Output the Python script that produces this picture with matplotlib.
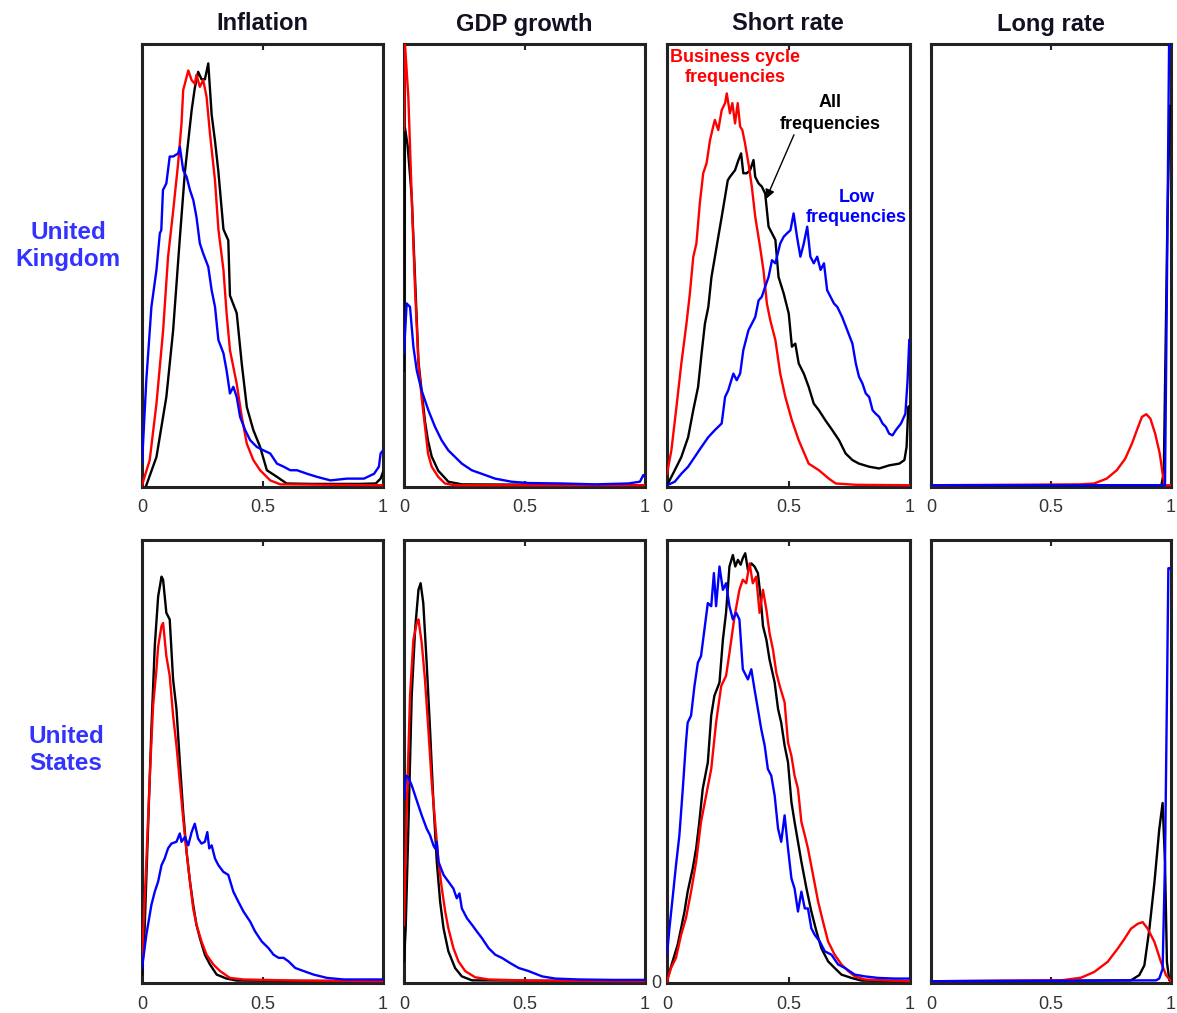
import matplotlib
matplotlib.use("Agg")
import matplotlib.pyplot as plt

plt.rcParams['font.family'] = ['Liberation Sans', 'DejaVu Sans']

columns = ["Inflation", "GDP growth", "Short rate", "Long rate"]
countries = ["United\nKingdom", "United\nStates"]
xtick_vals = [0, 0.5, 1]
xtick_labels = ["0", "0.5", "1"]

# ---------------- United Kingdom ----------------
uk_infl_all_x = [0.018, 0.06, 0.101, 0.129, 0.157, 0.178, 0.192, 0.206, 0.219, 0.233, 0.247, 0.261, 0.275, 0.289, 0.303, 0.317, 0.338, 0.358, 0.365, 0.393, 0.414, 0.435, 0.462, 0.49, 0.518, 0.56, 0.60, 0.7, 0.8, 0.9, 0.97, 0.99, 1.0]
uk_infl_all_y = [0.0, 0.064, 0.20, 0.35, 0.56, 0.71, 0.78, 0.85, 0.90, 0.937, 0.92, 0.92, 0.956, 0.84, 0.78, 0.71, 0.58, 0.555, 0.43, 0.39, 0.275, 0.177, 0.125, 0.087, 0.034, 0.019, 0.004, 0.003, 0.003, 0.003, 0.004, 0.015, 0.03]
uk_infl_bc_x = [0.0, 0.032, 0.06, 0.0875, 0.108, 0.129, 0.15, 0.164, 0.171, 0.178, 0.192, 0.206, 0.219, 0.226, 0.24, 0.254, 0.268, 0.282, 0.303, 0.317, 0.338, 0.351, 0.365, 0.393, 0.414, 0.435, 0.462, 0.49, 0.532, 0.574, 1.0]
uk_infl_bc_y = [0.0, 0.057, 0.185, 0.35, 0.517, 0.62, 0.73, 0.82, 0.896, 0.91, 0.94, 0.918, 0.91, 0.93, 0.903, 0.918, 0.88, 0.797, 0.69, 0.58, 0.488, 0.39, 0.306, 0.23, 0.155, 0.094, 0.057, 0.034, 0.011, 0.002, 0.0]
uk_infl_low_x = [0.0, 0.018, 0.039, 0.06, 0.074, 0.08, 0.087, 0.101, 0.115, 0.129, 0.15, 0.157, 0.171, 0.185, 0.199, 0.213, 0.226, 0.24, 0.254, 0.275, 0.289, 0.303, 0.317, 0.338, 0.351, 0.365, 0.379, 0.393, 0.407, 0.428, 0.449, 0.476, 0.504, 0.532, 0.56, 0.588, 0.615, 0.643, 0.685, 0.726, 0.782, 0.851, 0.921, 0.963, 0.983, 0.99, 1.0]
uk_infl_low_y = [0.049, 0.239, 0.404, 0.488, 0.571, 0.578, 0.669, 0.684, 0.745, 0.745, 0.752, 0.767, 0.714, 0.699, 0.669, 0.646, 0.608, 0.548, 0.525, 0.495, 0.442, 0.404, 0.329, 0.299, 0.26, 0.208, 0.223, 0.2, 0.155, 0.125, 0.102, 0.087, 0.079, 0.072, 0.049, 0.042, 0.034, 0.034, 0.026, 0.019, 0.011, 0.015, 0.015, 0.026, 0.042, 0.072, 0.079]

uk_gdp_all_x = [0.0, 0.004, 0.015, 0.032, 0.06, 0.087, 0.1, 0.115, 0.142, 0.184, 0.24, 1.0]
uk_gdp_all_y = [0.26, 0.81, 0.77, 0.654, 0.28, 0.145, 0.1, 0.065, 0.033, 0.008, 0.002, 0.0]
uk_gdp_bc_x = [0.0, 0.004, 0.018, 0.032, 0.046, 0.06, 0.073, 0.087, 0.1, 0.115, 0.142, 0.17, 0.21, 1.0]
uk_gdp_bc_y = [0.805, 1.0, 0.88, 0.654, 0.442, 0.276, 0.2, 0.133, 0.071, 0.042, 0.019, 0.004, 0.0, 0.0]
uk_gdp_low_x = [0.0, 0.011, 0.025, 0.039, 0.053, 0.073, 0.101, 0.129, 0.156, 0.184, 0.212, 0.24, 0.281, 0.322, 0.378, 0.446, 0.516, 0.654, 0.793, 0.931, 0.979, 0.993, 1.0]
uk_gdp_low_y = [0.3, 0.412, 0.404, 0.314, 0.26, 0.215, 0.17, 0.132, 0.102, 0.079, 0.064, 0.049, 0.034, 0.026, 0.015, 0.008, 0.005, 0.004, 0.002, 0.004, 0.008, 0.023, 0.019]

uk_short_all_x = [0.004, 0.032, 0.059, 0.087, 0.108, 0.128, 0.142, 0.156, 0.17, 0.183, 0.197, 0.211, 0.225, 0.239, 0.25, 0.259, 0.28, 0.294, 0.305, 0.314, 0.328, 0.342, 0.356, 0.363, 0.377, 0.39, 0.404, 0.418, 0.432, 0.446, 0.459, 0.48, 0.501, 0.514, 0.528, 0.542, 0.563, 0.583, 0.604, 0.625, 0.652, 0.68, 0.708, 0.735, 0.763, 0.79, 0.832, 0.873, 0.914, 0.956, 0.977, 0.986, 0.993, 1.0]
uk_short_all_y = [0.004, 0.034, 0.064, 0.109, 0.17, 0.223, 0.297, 0.366, 0.404, 0.472, 0.517, 0.563, 0.608, 0.654, 0.691, 0.699, 0.714, 0.737, 0.752, 0.707, 0.707, 0.714, 0.737, 0.699, 0.684, 0.677, 0.661, 0.586, 0.571, 0.556, 0.472, 0.435, 0.389, 0.314, 0.321, 0.276, 0.253, 0.223, 0.185, 0.17, 0.147, 0.125, 0.102, 0.072, 0.057, 0.049, 0.042, 0.038, 0.045, 0.049, 0.057, 0.087, 0.178, 0.18]
uk_short_bc_x = [0.0, 0.018, 0.039, 0.059, 0.08, 0.094, 0.108, 0.121, 0.135, 0.149, 0.163, 0.177, 0.19, 0.197, 0.211, 0.225, 0.239, 0.246, 0.259, 0.269, 0.28, 0.291, 0.301, 0.31, 0.321, 0.335, 0.349, 0.363, 0.383, 0.397, 0.411, 0.425, 0.446, 0.466, 0.487, 0.514, 0.542, 0.583, 0.625, 0.666, 0.694, 0.777, 1.0]
uk_short_bc_y = [0.026, 0.079, 0.178, 0.276, 0.366, 0.434, 0.517, 0.548, 0.639, 0.707, 0.73, 0.782, 0.813, 0.828, 0.805, 0.85, 0.866, 0.888, 0.843, 0.866, 0.82, 0.866, 0.813, 0.805, 0.775, 0.73, 0.677, 0.609, 0.54, 0.487, 0.412, 0.374, 0.329, 0.253, 0.2, 0.147, 0.102, 0.049, 0.034, 0.015, 0.004, 0.001, 0.0]
uk_short_low_x = [0.0, 0.032, 0.059, 0.087, 0.114, 0.142, 0.17, 0.197, 0.225, 0.239, 0.252, 0.273, 0.287, 0.301, 0.314, 0.335, 0.349, 0.363, 0.377, 0.39, 0.404, 0.418, 0.432, 0.446, 0.466, 0.48, 0.494, 0.508, 0.521, 0.535, 0.549, 0.563, 0.577, 0.59, 0.604, 0.618, 0.632, 0.646, 0.659, 0.673, 0.687, 0.701, 0.721, 0.742, 0.763, 0.777, 0.79, 0.804, 0.818, 0.832, 0.846, 0.859, 0.873, 0.887, 0.901, 0.914, 0.928, 0.942, 0.963, 0.981, 0.99, 0.997]
uk_short_low_y = [0.0, 0.008, 0.026, 0.042, 0.064, 0.087, 0.109, 0.125, 0.14, 0.2, 0.215, 0.253, 0.238, 0.253, 0.306, 0.351, 0.366, 0.381, 0.419, 0.427, 0.45, 0.472, 0.51, 0.503, 0.548, 0.563, 0.571, 0.578, 0.616, 0.563, 0.518, 0.548, 0.586, 0.518, 0.503, 0.518, 0.488, 0.503, 0.442, 0.427, 0.412, 0.404, 0.381, 0.351, 0.321, 0.276, 0.246, 0.231, 0.208, 0.2, 0.17, 0.162, 0.155, 0.14, 0.132, 0.117, 0.113, 0.125, 0.14, 0.162, 0.238, 0.329]

uk_long_all_x = [0.0, 0.96, 0.97, 0.985, 0.995, 1.0]
uk_long_all_y = [0.0, 0.0, 0.03, 0.6, 0.86, 0.86]
uk_long_bc_x = [0.0, 0.62, 0.68, 0.732, 0.774, 0.809, 0.837, 0.858, 0.879, 0.897, 0.914, 0.934, 0.953, 0.967, 0.973, 1.0]
uk_long_bc_y = [0.0, 0.002, 0.004, 0.015, 0.034, 0.06, 0.094, 0.125, 0.155, 0.161, 0.151, 0.117, 0.072, 0.019, 0.0, 0.0]
uk_long_low_x = [0.0, 0.975, 0.983, 0.992, 1.0]
uk_long_low_y = [0.0, 0.0, 0.45, 1.0, 1.0]

# ---------------- United States ----------------
us_infl_all_x = [0.0, 0.011, 0.025, 0.039, 0.053, 0.067, 0.081, 0.0875, 0.101, 0.115, 0.129, 0.143, 0.157, 0.171, 0.185, 0.199, 0.2125, 0.226, 0.24, 0.261, 0.282, 0.31, 0.351, 0.393, 1.0]
us_infl_all_y = [0.015, 0.12, 0.346, 0.571, 0.76, 0.872, 0.917, 0.91, 0.835, 0.82, 0.684, 0.617, 0.496, 0.383, 0.293, 0.226, 0.173, 0.128, 0.098, 0.06, 0.038, 0.015, 0.006, 0.0015, 0.0]
us_infl_bc_x = [0.0, 0.018, 0.032, 0.046, 0.06, 0.067, 0.081, 0.0875, 0.101, 0.115, 0.129, 0.143, 0.157, 0.171, 0.185, 0.199, 0.2125, 0.226, 0.247, 0.268, 0.296, 0.324, 0.365, 0.421, 0.64, 1.0]
us_infl_bc_y = [0.053, 0.271, 0.459, 0.624, 0.707, 0.759, 0.805, 0.812, 0.737, 0.692, 0.602, 0.534, 0.451, 0.368, 0.293, 0.226, 0.165, 0.128, 0.09, 0.06, 0.038, 0.023, 0.0075, 0.004, 0.0015, 0.0]
us_infl_low_x = [0.0, 0.018, 0.039, 0.053, 0.067, 0.081, 0.094, 0.108, 0.122, 0.143, 0.157, 0.164, 0.178, 0.192, 0.206, 0.219, 0.233, 0.247, 0.261, 0.271, 0.279, 0.289, 0.303, 0.317, 0.3375, 0.358, 0.379, 0.4, 0.421, 0.449, 0.469, 0.497, 0.525, 0.546, 0.567, 0.5875, 0.608, 0.636, 0.671, 0.7125, 0.768, 0.8375, 0.921, 1.0]
us_infl_low_y = [0.03, 0.105, 0.173, 0.203, 0.226, 0.263, 0.278, 0.301, 0.312, 0.316, 0.335, 0.316, 0.327, 0.308, 0.338, 0.357, 0.323, 0.312, 0.316, 0.338, 0.301, 0.308, 0.278, 0.263, 0.248, 0.241, 0.203, 0.18, 0.158, 0.135, 0.113, 0.09, 0.075, 0.06, 0.053, 0.053, 0.045, 0.03, 0.023, 0.015, 0.0075, 0.004, 0.004, 0.004]

us_gdp_all_x = [0.0, 0.007, 0.018, 0.032, 0.046, 0.06, 0.069, 0.08, 0.094, 0.108, 0.122, 0.136, 0.15, 0.164, 0.184, 0.212, 0.24, 0.282, 1.0]
us_gdp_all_y = [0.045, 0.12, 0.346, 0.647, 0.797, 0.887, 0.902, 0.857, 0.722, 0.571, 0.406, 0.271, 0.18, 0.12, 0.068, 0.03, 0.011, 0.002, 0.0]
us_gdp_bc_x = [0.0, 0.011, 0.025, 0.039, 0.053, 0.06, 0.0735, 0.087, 0.101, 0.115, 0.129, 0.143, 0.157, 0.171, 0.184, 0.205, 0.226, 0.254, 0.295, 0.351, 0.52, 1.0]
us_gdp_bc_y = [0.128, 0.383, 0.647, 0.774, 0.812, 0.82, 0.767, 0.684, 0.571, 0.451, 0.361, 0.271, 0.21, 0.158, 0.12, 0.075, 0.045, 0.023, 0.009, 0.004, 0.0015, 0.0]
us_gdp_low_x = [0.0, 0.008, 0.018, 0.032, 0.046, 0.06, 0.0735, 0.094, 0.108, 0.122, 0.129, 0.136, 0.143, 0.164, 0.184, 0.205, 0.219, 0.23, 0.24, 0.261, 0.282, 0.302, 0.323, 0.351, 0.379, 0.406, 0.441, 0.476, 0.517, 0.573, 0.628, 0.725, 0.864, 1.0]
us_gdp_low_y = [0.414, 0.466, 0.462, 0.444, 0.421, 0.398, 0.376, 0.346, 0.331, 0.308, 0.301, 0.316, 0.271, 0.241, 0.226, 0.21, 0.188, 0.199, 0.165, 0.143, 0.128, 0.113, 0.098, 0.075, 0.06, 0.053, 0.041, 0.03, 0.023, 0.011, 0.006, 0.004, 0.003, 0.003]

us_short_all_x = [0.003, 0.023, 0.044, 0.058, 0.072, 0.085, 0.106, 0.12, 0.133, 0.147, 0.168, 0.182, 0.195, 0.216, 0.23, 0.243, 0.257, 0.271, 0.281, 0.292, 0.303, 0.312, 0.322, 0.333, 0.347, 0.36, 0.374, 0.385, 0.395, 0.409, 0.422, 0.443, 0.457, 0.47, 0.484, 0.498, 0.512, 0.525, 0.539, 0.553, 0.574, 0.594, 0.615, 0.635, 0.663, 0.69, 0.718, 0.759, 0.8, 1.0]
us_short_all_y = [0.0075, 0.045, 0.083, 0.12, 0.158, 0.203, 0.256, 0.301, 0.361, 0.436, 0.496, 0.602, 0.647, 0.677, 0.774, 0.835, 0.94, 0.966, 0.94, 0.955, 0.944, 0.959, 0.97, 0.932, 0.947, 0.94, 0.925, 0.872, 0.805, 0.774, 0.729, 0.677, 0.617, 0.586, 0.534, 0.496, 0.406, 0.361, 0.316, 0.271, 0.21, 0.158, 0.113, 0.075, 0.045, 0.03, 0.015, 0.0075, 0.0015, 0.0]
us_short_bc_x = [0.0, 0.0165, 0.037, 0.058, 0.078, 0.099, 0.12, 0.14, 0.161, 0.182, 0.202, 0.223, 0.243, 0.257, 0.278, 0.298, 0.312, 0.326, 0.34, 0.353, 0.367, 0.381, 0.395, 0.409, 0.422, 0.436, 0.45, 0.464, 0.484, 0.498, 0.512, 0.525, 0.539, 0.553, 0.567, 0.58, 0.601, 0.622, 0.642, 0.663, 0.69, 0.718, 0.746, 0.773, 0.814, 0.911, 1.0]
us_short_bc_y = [0.0, 0.03, 0.053, 0.105, 0.143, 0.203, 0.271, 0.361, 0.421, 0.481, 0.586, 0.669, 0.692, 0.744, 0.827, 0.887, 0.91, 0.902, 0.947, 0.902, 0.917, 0.835, 0.887, 0.842, 0.789, 0.752, 0.699, 0.669, 0.632, 0.541, 0.511, 0.466, 0.436, 0.361, 0.331, 0.301, 0.241, 0.18, 0.135, 0.09, 0.06, 0.038, 0.023, 0.011, 0.004, 0.0015, 0.0]
us_short_low_x = [0.0, 0.01, 0.023, 0.037, 0.051, 0.065, 0.078, 0.085, 0.099, 0.113, 0.127, 0.14, 0.154, 0.168, 0.182, 0.193, 0.202, 0.216, 0.23, 0.243, 0.257, 0.271, 0.285, 0.298, 0.312, 0.333, 0.347, 0.36, 0.374, 0.388, 0.402, 0.415, 0.429, 0.443, 0.457, 0.47, 0.484, 0.498, 0.512, 0.525, 0.539, 0.553, 0.567, 0.58, 0.594, 0.608, 0.629, 0.649, 0.677, 0.704, 0.732, 0.773, 0.814, 0.869, 0.938, 1.0]
us_short_low_y = [0.06, 0.12, 0.188, 0.263, 0.331, 0.436, 0.541, 0.586, 0.602, 0.669, 0.722, 0.737, 0.797, 0.857, 0.85, 0.925, 0.85, 0.94, 0.887, 0.902, 0.85, 0.82, 0.835, 0.82, 0.707, 0.684, 0.707, 0.662, 0.617, 0.571, 0.534, 0.481, 0.466, 0.421, 0.346, 0.316, 0.376, 0.301, 0.233, 0.21, 0.158, 0.203, 0.165, 0.165, 0.12, 0.105, 0.09, 0.068, 0.06, 0.038, 0.03, 0.015, 0.011, 0.0075, 0.006, 0.006]

us_long_all_x = [0.0, 0.833, 0.868, 0.889, 0.91, 0.931, 0.951, 0.965, 0.975, 0.983, 0.993, 1.0]
us_long_all_y = [0.0, 0.002, 0.014, 0.036, 0.119, 0.224, 0.344, 0.404, 0.27, 0.044, 0.002, 0.0]
us_long_bc_x = [0.0, 0.542, 0.625, 0.68, 0.736, 0.778, 0.806, 0.833, 0.861, 0.882, 0.903, 0.931, 0.958, 0.979, 1.0]
us_long_bc_y = [0.0, 0.002, 0.008, 0.021, 0.044, 0.074, 0.096, 0.119, 0.13, 0.134, 0.119, 0.089, 0.044, 0.014, 0.0]
us_long_low_x = [0.0, 0.9375, 0.951, 0.965, 0.975, 0.983, 0.989, 0.995]
us_long_low_y = [0.0, 0.002, 0.006, 0.028, 0.27, 0.64, 0.936, 0.936]

data = [
    [(uk_infl_all_x, uk_infl_all_y, uk_infl_bc_x, uk_infl_bc_y, uk_infl_low_x, uk_infl_low_y),
     (uk_gdp_all_x, uk_gdp_all_y, uk_gdp_bc_x, uk_gdp_bc_y, uk_gdp_low_x, uk_gdp_low_y),
     (uk_short_all_x, uk_short_all_y, uk_short_bc_x, uk_short_bc_y, uk_short_low_x, uk_short_low_y),
     (uk_long_all_x, uk_long_all_y, uk_long_bc_x, uk_long_bc_y, uk_long_low_x, uk_long_low_y)],
    [(us_infl_all_x, us_infl_all_y, us_infl_bc_x, us_infl_bc_y, us_infl_low_x, us_infl_low_y),
     (us_gdp_all_x, us_gdp_all_y, us_gdp_bc_x, us_gdp_bc_y, us_gdp_low_x, us_gdp_low_y),
     (us_short_all_x, us_short_all_y, us_short_bc_x, us_short_bc_y, us_short_low_x, us_short_low_y),
     (us_long_all_x, us_long_all_y, us_long_bc_x, us_long_bc_y, us_long_low_x, us_long_low_y)],
]

W, H = 1177, 1013
fig = plt.figure(figsize=(W / 100, H / 100), dpi=100)

col_left = [142, 404, 667, 931]
col_width = [241, 241, 243, 240]
row_top = [44, 540]
row_h = 443

lw = 1.7
axes = []
for r in range(2):
    for c in range(4):
        ax = fig.add_axes([col_left[c] / W, 1 - (row_top[r] + row_h) / H,
                           col_width[c] / W, row_h / H])
        ax_all_x, ax_all_y, bc_x, bc_y, low_x, low_y = data[r][c]
        ax.plot(ax_all_x, ax_all_y, color='black', lw=lw, zorder=3)
        ax.plot(bc_x, bc_y, color='#ff0000', lw=lw, zorder=4)
        ax.plot(low_x, low_y, color='#0000ff', lw=lw, zorder=5)
        ax.set_xlim(0, 1)
        ax.set_ylim(-0.004, 1.0)
        ax.set_xticks(xtick_vals)
        ax.set_xticklabels(xtick_labels)
        ax.tick_params(axis='x', direction='in', length=4, width=1.5, top=True,
                       labelsize=13, labelcolor='#333333', pad=9, color='#222222')
        if r == 1 and c == 2:
            ax.set_yticks([0])
            ax.set_yticklabels(["0"])
            ax.tick_params(axis='y', length=0, labelsize=13, labelcolor='#333333', pad=4)
        else:
            ax.set_yticks([])
        for s in ax.spines.values():
            s.set_linewidth(2.2)
            s.set_color('#222222')
        axes.append(ax)

# column titles
col_centres = [262, 524, 788, 1051]
for name, cx in zip(columns, col_centres):
    fig.text(cx / W, 1 - 24 / H, name, ha='center', va='center',
             fontsize=17, fontweight='bold', color='#111122')

# row labels
fig.text(68 / W, 1 - 246 / H, countries[0], ha='center', va='center',
         fontsize=17.5, fontweight='bold', color='#3333ff', linespacing=1.25)
fig.text(66 / W, 1 - 750 / H, countries[1], ha='center', va='center',
         fontsize=17.5, fontweight='bold', color='#3333ff', linespacing=1.25)

# annotations in UK short-rate panel
ax = axes[2]
ax.text(0.28, 0.946, "Business cycle\nfrequencies", ha='center', va='center',
        fontsize=13, fontweight='bold', color='#ff0000', linespacing=1.25, zorder=6)
ax.text(0.67, 0.842, "All\nfrequencies", ha='center', va='center',
        fontsize=13, fontweight='bold', color='black', linespacing=1.35, zorder=6)
ax.annotate("", xy=(0.403, 0.643), xytext=(0.527, 0.80),
            arrowprops=dict(arrowstyle='-|>', color='black', lw=1.0,
                            mutation_scale=14), zorder=6)
ax.text(0.78, 0.63, "Low\nfrequencies", ha='center', va='center',
        fontsize=13, fontweight='bold', color='#0000ff', linespacing=1.25, zorder=6)

fig.savefig("out.png", dpi=100, facecolor='white')
